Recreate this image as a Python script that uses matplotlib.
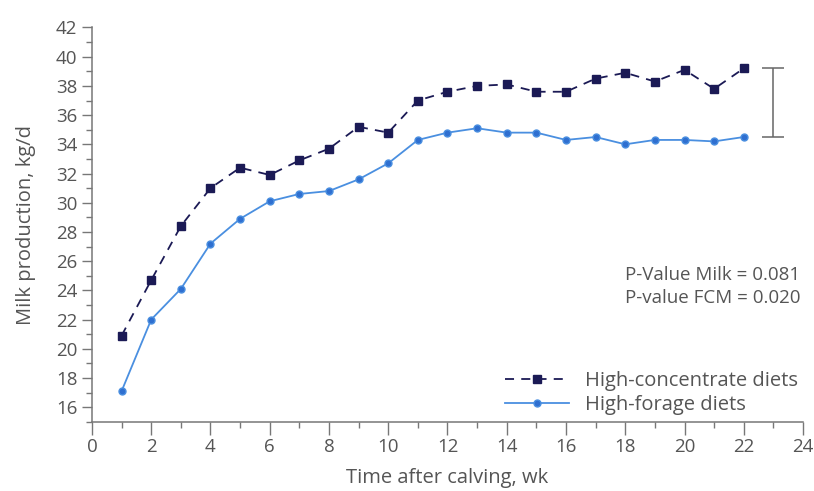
import matplotlib

matplotlib.use("Agg")
import matplotlib.pyplot as plt
from matplotlib.ticker import MultipleLocator

weeks = list(range(1, 23))
high_concentrate = [20.9, 24.7, 28.4, 31.0, 32.4, 31.9, 32.9, 33.7, 35.2, 34.8, 37.0,
                    37.6, 38.0, 38.1, 37.6, 37.6, 38.5, 38.9, 38.3, 39.1, 37.8, 39.2]
high_forage = [17.1, 22.0, 24.1, 27.2, 28.9, 30.1, 30.6, 30.8, 31.6, 32.7, 34.3,
               34.8, 35.1, 34.8, 34.8, 34.3, 34.5, 34.0, 34.3, 34.3, 34.2, 34.5]
series_labels = ["High-concentrate diets", "High-forage diets"]
sem_week = 23
sem_low, sem_high = 34.5, 39.2
pvalue_lines = ["P-Value Milk = 0.081", "P-value FCM = 0.020"]

TEXT = "#555555"
AXIS = "#777777"
NAVY = "#1b1a55"
BLUE = "#4a8fe0"
BLUE_MK = "#2f6fd0"

plt.rcParams["font.family"] = ["Open Sans", "DejaVu Sans"]

fig = plt.figure(figsize=(8.14, 4.91), dpi=100)
ax = fig.add_axes([0.113, 0.141, 0.8735, 0.803])

ax.plot(weeks, high_concentrate, color=NAVY, linestyle=(0, (5, 4)), linewidth=1.3,
        marker="s", markersize=5.5, markerfacecolor=NAVY, markeredgecolor=NAVY,
        label=series_labels[0])
ax.plot(weeks, high_forage, color=BLUE, linewidth=1.3,
        marker="o", markersize=5, markerfacecolor=BLUE_MK, markeredgecolor=BLUE,
        label=series_labels[1])

# pooled SEM bar beside the last week
ax.errorbar([sem_week], [(sem_low + sem_high) / 2], yerr=[(sem_high - sem_low) / 2],
            fmt="none", ecolor="#666666", elinewidth=1.1, capsize=8, capthick=1.1)

ax.set_xlim(0, 24)
ax.set_ylim(15, 42)
ax.xaxis.set_major_locator(MultipleLocator(2))
ax.xaxis.set_minor_locator(MultipleLocator(1))
ax.set_yticks(range(16, 43, 2))
ax.yaxis.set_minor_locator(MultipleLocator(1))

for side in ["top", "right"]:
    ax.spines[side].set_visible(False)
for side in ["left", "bottom"]:
    ax.spines[side].set_color(AXIS)
    ax.spines[side].set_linewidth(1.1)

ax.tick_params(which="major", width=1.0, color=AXIS, labelcolor=TEXT, labelsize=13.5)
ax.tick_params(axis="x", which="major", length=9.5, pad=2)
ax.tick_params(axis="y", which="major", length=7.5, pad=3)
ax.tick_params(which="minor", length=4.5, width=1.0, color=AXIS)

ax.set_xlabel("Time after calving, wk", fontsize=14.5, color=TEXT, labelpad=9)
ax.set_ylabel("Milk production, kg/d", fontsize=14.5, color=TEXT, labelpad=14)

ax.text(0.996, 0.343, "\n".join(pvalue_lines), transform=ax.transAxes,
        ha="right", va="center", fontsize=13.5, color=TEXT, linespacing=1.35)

leg = ax.legend(loc="lower right", bbox_to_anchor=(0.996, 0.012), frameon=False,
                fontsize=14.5, handlelength=3.2, handletextpad=0.8, labelspacing=0.2,
                borderaxespad=0.0, borderpad=0.1)
for t in leg.get_texts():
    t.set_color(TEXT)

fig.savefig("out.png", dpi=100)
